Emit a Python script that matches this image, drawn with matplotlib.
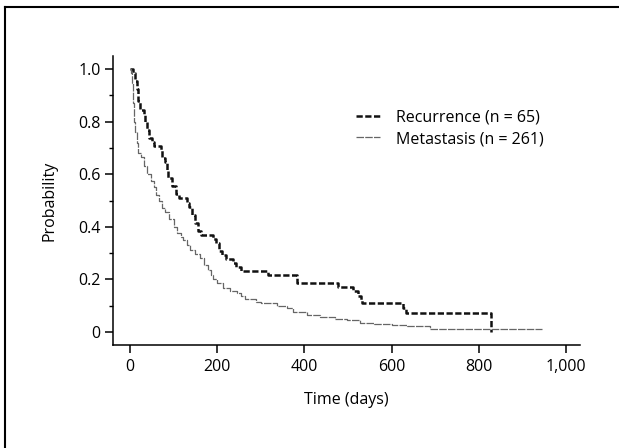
import matplotlib
matplotlib.use('Agg')
import matplotlib.pyplot as plt
from matplotlib.lines import Line2D
from matplotlib.ticker import FixedLocator, FuncFormatter

plt.rcParams['font.family'] = ['Open Sans', 'DejaVu Sans']

# Kaplan-Meier steps (days, survival probability)
recurrence_days = [0, 8, 12, 15, 18, 22, 32, 35, 38, 44, 50, 56, 70, 73, 80, 84, 88, 97,
                   106, 112, 130, 136, 142, 148, 155, 162, 190, 198, 204, 211, 221, 236,
                   244, 255, 316, 384, 476, 512, 522, 530, 533, 626, 632, 828]
recurrence_prob = [1.0, 0.985, 0.954, 0.923, 0.877, 0.846, 0.831, 0.800, 0.769, 0.738,
                   0.723, 0.708, 0.692, 0.662, 0.646, 0.615, 0.585, 0.554, 0.523, 0.508,
                   0.492, 0.477, 0.446, 0.415, 0.385, 0.369, 0.354, 0.338, 0.308, 0.292,
                   0.277, 0.262, 0.246, 0.231, 0.215, 0.185, 0.169, 0.154, 0.138, 0.123,
                   0.108, 0.092, 0.072, 0.0]

metastasis_days = [0, 2, 4, 6, 8, 10, 12, 15, 18, 25, 32, 40, 48, 55, 60, 66, 74, 80, 90,
                   100, 108, 116, 122, 130, 138, 148, 161, 170, 179, 185, 190, 200, 213,
                   230, 245, 255, 264, 290, 300, 337, 360, 374, 406, 436, 470, 498, 528,
                   560, 600, 635, 688, 945]
metastasis_prob = [1.0, 0.985, 0.947, 0.91, 0.87, 0.80, 0.76, 0.72, 0.68, 0.665, 0.63,
                   0.60, 0.575, 0.55, 0.52, 0.50, 0.47, 0.455, 0.43, 0.40, 0.375, 0.36,
                   0.35, 0.33, 0.31, 0.295, 0.28, 0.255, 0.235, 0.215, 0.20, 0.185, 0.167,
                   0.155, 0.148, 0.135, 0.125, 0.115, 0.11, 0.098, 0.09, 0.076, 0.065,
                   0.057, 0.05, 0.046, 0.034, 0.03, 0.026, 0.023, 0.011, 0.011]

labels = ['Recurrence (n = 65)', 'Metastasis (n = 261)']
x_ticks = [0, 200, 400, 600, 800, 1000]
y_ticks = [0, 0.2, 0.4, 0.6, 0.8, 1.0]

W, H = 619, 448
fig = plt.figure(figsize=(W / 100, H / 100), dpi=100)
ax = fig.add_axes([113 / W, 1 - 345 / H, (580 - 113) / W, (345 - 56) / H])

ax.step(recurrence_days, recurrence_prob, where='post', color='#111111', lw=1.8,
        linestyle=(0, (2.5, 1.0)), label=labels[0])
ax.step(metastasis_days, metastasis_prob, where='post', color='#666666', lw=0.9,
        linestyle=(0, (6, 1.0)), label=labels[1])

ax.set_xlim(-39, 1032)
ax.set_ylim(-0.05, 1.05)
for s in ['top', 'right']:
    ax.spines[s].set_visible(False)
for s in ['left', 'bottom']:
    ax.spines[s].set_linewidth(1.1)

ax.xaxis.set_major_locator(FixedLocator(x_ticks))
ax.xaxis.set_major_formatter(FuncFormatter(lambda v, p: f'{int(v):,}'))
ax.yaxis.set_major_locator(FixedLocator(y_ticks))
ax.yaxis.set_minor_locator(FixedLocator([0.1, 0.3, 0.5, 0.7, 0.9]))
ax.yaxis.set_major_formatter(FuncFormatter(lambda v, p: '0' if v == 0 else f'{v:.1f}'))
ax.tick_params(axis='x', length=6, width=1.1, pad=4, labelsize=11.5)
ax.tick_params(axis='y', which='major', length=6, width=1.1, pad=3, labelsize=11.5)
ax.tick_params(axis='y', which='minor', length=3, width=1.0)

ax.set_xlabel('Time (days)', fontsize=11.5)
ax.set_ylabel('Probability', fontsize=11.5)
ax.xaxis.set_label_coords(0.5, -0.163)
ax.yaxis.set_label_coords(-0.118, 0.5)

ax.legend(loc='upper left', bbox_to_anchor=(0.52, 0.815), frameon=False, fontsize=11.5,
          handlelength=1.5, handletextpad=1.0, borderpad=0, borderaxespad=0,
          labelspacing=0.35)

# scanned page frame (left and top edges)
fig.add_artist(Line2D([5 / W, 5 / W], [0, 1 - 7 / H], color='black', lw=1.5))
fig.add_artist(Line2D([5 / W, 1], [1 - 7 / H, 1 - 7 / H], color='black', lw=1.5))

fig.savefig('out.png', dpi=100)
